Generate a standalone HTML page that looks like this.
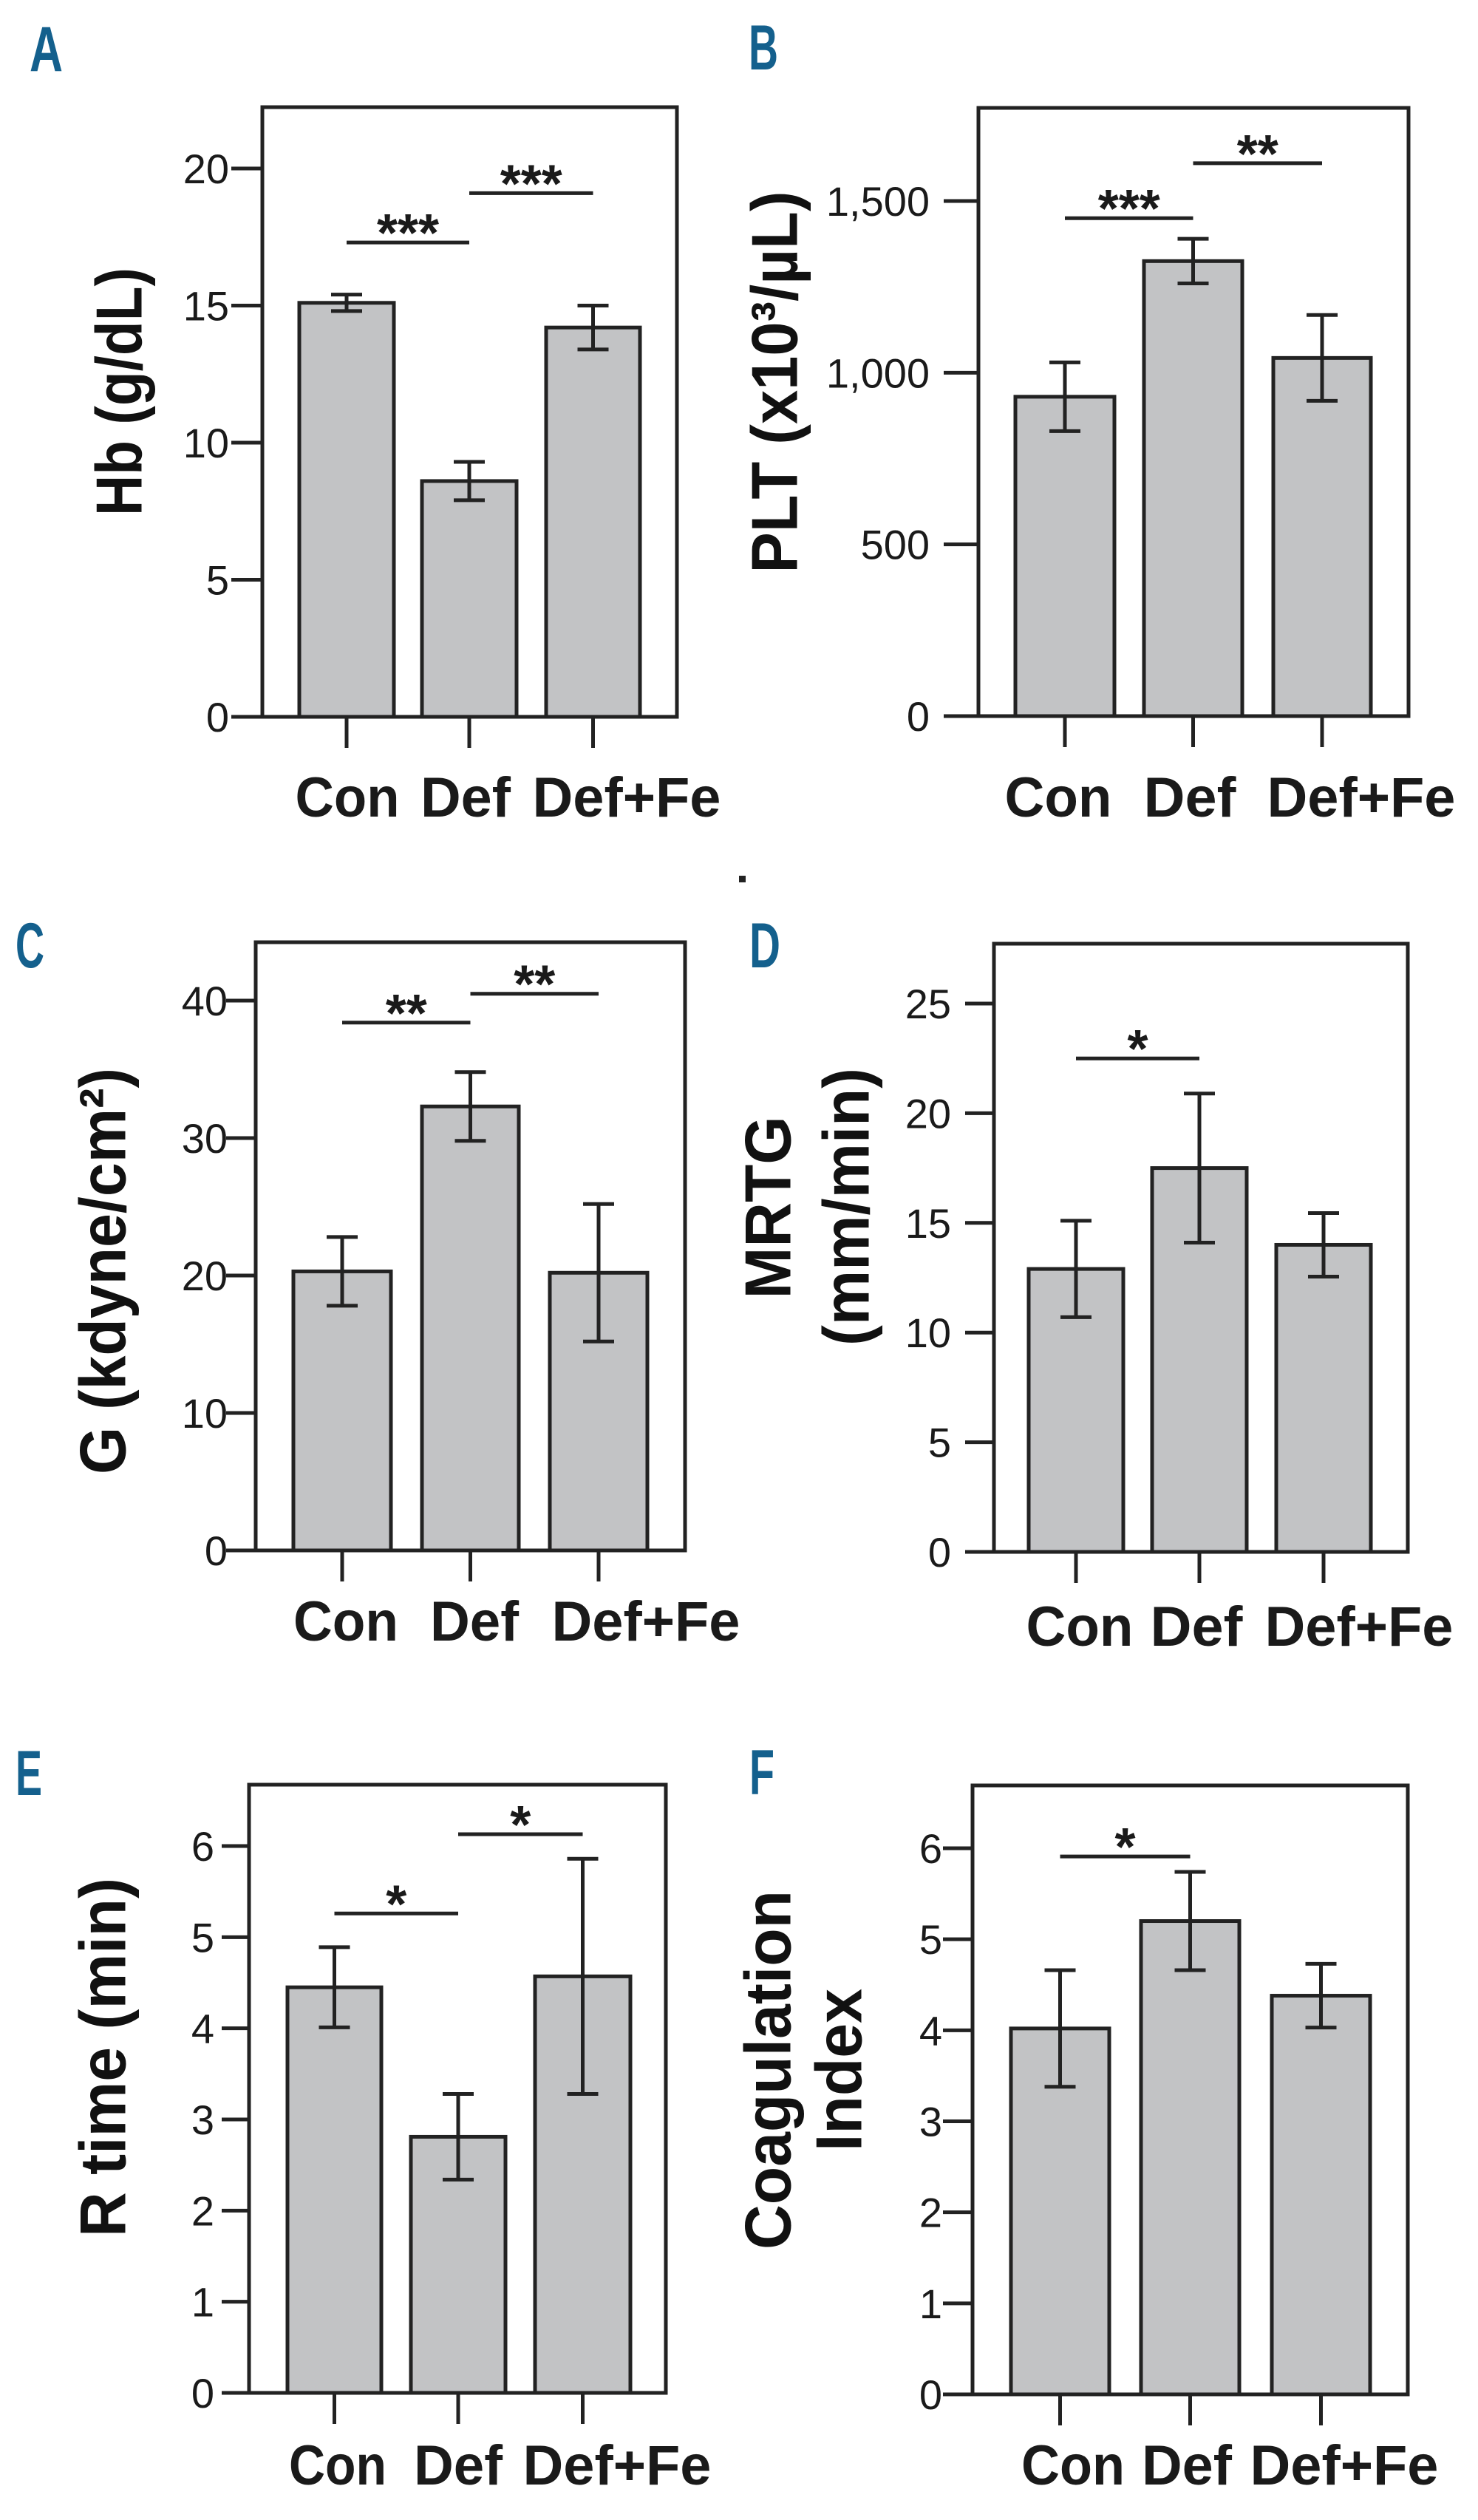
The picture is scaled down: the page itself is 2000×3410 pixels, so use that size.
<!DOCTYPE html>
<html><head><meta charset="utf-8">
<style>
html,body{margin:0;padding:0;background:#fff;}
svg{display:block;}
</style></head>
<body>
<svg id="fig" width="2000" height="3410" viewBox="0 0 2000 3410" xmlns="http://www.w3.org/2000/svg" font-family="Liberation Sans, Arial, sans-serif"></svg>
<script>
const categories = ['Con', 'Def', 'Def+Fe'];
const hbValues = [15.1, 8.6, 14.2];
const hbErrors = [0.3, 0.7, 0.8];
const hbTicks = [0, 5, 10, 15, 20];
const pltValues = [930, 1325, 1043];
const pltErrors = [100, 65, 125];
const pltTicks = [0, 500, 1000, 1500];
const pltTickLabels = ['0', '500', '1,000', '1,500'];
const gValues = [20.3, 32.3, 20.2];
const gErrors = [2.5, 2.5, 5.0];
const gTicks = [0, 10, 20, 30, 40];
const mrtgValues = [12.9, 17.5, 14.0];
const mrtgErrors = [2.2, 3.4, 1.45];
const mrtgTicks = [0, 5, 10, 15, 20, 25];
const rtimeValues = [4.45, 2.81, 4.57];
const rtimeErrors = [0.44, 0.47, 1.29];
const rtimeTicks = [0, 1, 2, 3, 4, 5, 6];
const ciValues = [4.02, 5.2, 4.38];
const ciErrors = [0.64, 0.54, 0.35];
const ciTicks = [0, 1, 2, 3, 4, 5, 6];
const sigA = [[0, 1, 17.3, '***'], [1, 2, 19.1, '***']];
const sigB = [[0, 1, 1450, '***'], [1, 2, 1610, '**']];
const sigC = [[0, 1, 38.4, '**'], [1, 2, 40.5, '**']];
const sigD = [[0, 1, 22.5, '*']];
const sigE = [[0, 1, 5.26, '*'], [1, 2, 6.13, '*']];
const sigF = [[0, 1, 5.91, '*']];

const NS = 'http://www.w3.org/2000/svg';
const svg = document.getElementById('fig');
function mk(tag, attrs, parent, text) {
  const e = document.createElementNS(NS, tag);
  for (const k in attrs) e.setAttribute(k, attrs[k]);
  if (text !== undefined) e.textContent = text;
  (parent || svg).appendChild(e);
  return e;
}

const panels = [
  {id:'a', letter:'A', lx:40, ly:96, lw:45, frame:[355,145,916,970], topTickY:228, yTopTick:20, ticks:hbTicks, tickLabels:null,
   values:hbValues, errors:hbErrors, sig:sigA, bars:[[405,533],[571,699],[739,866]], tickX0:313, labelX:310,
   catY:1105, catX:[470,630,848], catW:[141,122,255], ylab:[{t:'Hb (g/dL)', x:161, y:530, len:336}]},
  {id:'b', letter:'B', lx:1013, ly:94, lw:40, frame:[1324,146,1906,969], topTickY:272, yTopTick:1500, ticks:pltTicks, tickLabels:pltTickLabels,
   values:pltValues, errors:pltErrors, sig:sigB, bars:[[1374,1508],[1548,1681],[1723,1855]], tickX0:1277, labelX:1258,
   catY:1105, catX:[1432,1610,1842], catW:[145,125,255], ylab:[{t:'PLT (x10³/µL)', x:1048, y:517, len:517}]},
  {id:'c', letter:'C', lx:21, ly:1309, lw:39, frame:[346,1275,927,2098], topTickY:1354, yTopTick:40, ticks:gTicks, tickLabels:null,
   values:gValues, errors:gErrors, sig:sigC, bars:[[397,529],[571,702],[744,876]], tickX0:306, labelX:308,
   catY:2220, catX:[468,642,874], catW:[142,120,255], ylab:[{t:'G (kdyne/cm²)', x:139, y:1720, len:550}]},
  {id:'d', letter:'D', lx:1014, ly:1309, lw:42, frame:[1345,1277,1905,2100], topTickY:1358, yTopTick:25, ticks:mrtgTicks, tickLabels:null,
   values:mrtgValues, errors:mrtgErrors, sig:sigD, bars:[[1392,1520],[1559,1687],[1727,1855]], tickX0:1306, labelX:1287,
   catY:2227, catX:[1461,1619,1839], catW:[145,125,255], ylab:[{t:'MRTG', x:1039, y:1634, len:247},{t:'(mm/min)', x:1145, y:1633, len:376}]},
  {id:'e', letter:'E', lx:21, ly:2429, lw:36, frame:[337,2415,901,3238], topTickY:2498, yTopTick:6, ticks:rtimeTicks, tickLabels:null,
   values:rtimeValues, errors:rtimeErrors, sig:sigE, bars:[[389,516],[556,684],[724,853]], tickX0:300, labelX:290,
   catY:3362, catX:[457,620,835], catW:[132,120,255], ylab:[{t:'R time (min)', x:139, y:2784, len:486}]},
  {id:'f', letter:'F', lx:1014, ly:2428, lw:34, frame:[1316,2416,1905,3240], topTickY:2501, yTopTick:6, ticks:ciTicks, tickLabels:null,
   values:ciValues, errors:ciErrors, sig:sigF, bars:[[1368,1501],[1544,1677],[1721,1854]], tickX0:1276, labelX:1275,
   catY:3362, catX:[1452,1606,1819], catW:[140,122,255], ylab:[{t:'Coagulation', x:1039, y:2801, len:486},{t:'Index', x:1135, y:2801, len:220}]}
];

const STK = '#222';
panels.forEach(p => {
  const g = mk('g', {});
  
  
  const [L, T, R, B] = p.frame;
  const span = B - p.topTickY;
  const y = v => B - v / p.yTopTick * span;

  const letter = mk('text', {x:p.lx, y:p.ly, 'font-size':86, 'font-weight':'bold', fill:'#14608d', textLength:p.lw, lengthAdjust:'spacingAndGlyphs'}, g, p.letter);
  
  

  p.values.forEach((v, i) => {
    const [x0, x1] = p.bars[i];
    const r = mk('rect', {x:x0, y:y(v), width:x1-x0, height:B-y(v), fill:'#c2c3c5', stroke:STK, 'stroke-width':5}, g);
    
    
    const cx = (x0 + x1) / 2, e = p.errors[i];
    const eb = mk('path', {d:`M${cx},${y(v+e)}V${y(v-e)}M${cx-21},${y(v+e)}H${cx+21}M${cx-21},${y(v-e)}H${cx+21}`, stroke:STK, 'stroke-width':5, fill:'none'}, g);
    
    
    const xt = mk('line', {x1:cx, y1:B, x2:cx, y2:B+42, stroke:STK, 'stroke-width':5}, g);
    
    
    const cl = mk('text', {x:p.catX[i], y:p.catY, 'font-size':76, 'font-weight':'bold', fill:'#1a1a1a', 'text-anchor':'middle', textLength:p.catW[i], lengthAdjust:'spacingAndGlyphs'}, g, categories[i]);
    
    
  });

  const fr = mk('rect', {x:L, y:T, width:R-L, height:B-T, fill:'none', stroke:STK, 'stroke-width':5}, g);
  
  

  p.ticks.forEach((t, i) => {
    const ty = y(t);
    const tk = mk('line', {x1:p.tickX0, y1:ty, x2:L, y2:ty, stroke:STK, 'stroke-width':5}, g);
    
    
    const lab = p.tickLabels ? p.tickLabels[i] : String(t);
    const tl = mk('text', {x:p.labelX, y:ty+20, 'font-size':56, fill:'#1a1a1a', 'text-anchor':'end'}, g, lab);
    
    
  });

  p.sig.forEach(s => {
    const [a, b, lv, stars] = s;
    const xa = (p.bars[a][0] + p.bars[a][1]) / 2, xb = (p.bars[b][0] + p.bars[b][1]) / 2;
    const ly = y(lv);
    const sl = mk('line', {x1:xa, y1:ly, x2:xb, y2:ly, stroke:STK, 'stroke-width':5}, g);
    
    
    const st = mk('text', {x:(xa+xb)/2, y:ly+12, 'font-size':72, 'font-weight':'bold', fill:'#1a1a1a', 'text-anchor':'middle'}, g, stars);
    
    
  });

  p.ylab.forEach(l => {
    const t = mk('text', {x:0, y:0, 'font-size':88, 'font-weight':'bold', fill:'#111', 'text-anchor':'middle', 'dominant-baseline':'central', textLength:l.len, lengthAdjust:'spacingAndGlyphs', transform:`translate(${l.x},${l.y}) rotate(-90)`}, g, l.t);
    
    
  });
});

const dot = mk('rect', {x:1000, y:1185, width:9, height:9, fill:'#222'});


</script>
</body></html>
